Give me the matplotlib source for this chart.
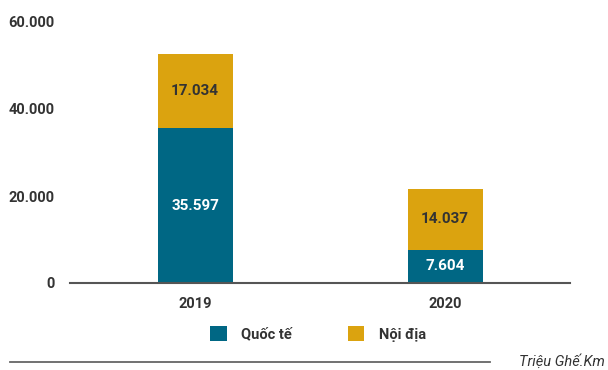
import numpy as np
import matplotlib.pyplot as plt
from matplotlib.lines import Line2D

years = ['2019', '2020']
quoc_te = [35597, 7604]
noi_dia = [17034, 14037]
yticks = [0, 20000, 40000, 60000]
ytick_labels = ['0', '20.000', '40.000', '60.000']

teal = '#006784'
gold = '#DBA30F'
dark = '#333333'

plt.rcParams['font.family'] = ['Roboto', 'DejaVu Sans']

fig = plt.figure(figsize=(6.08, 3.70), dpi=100)
ax = fig.add_axes([70/608, 87/370, 500/608, 261/370])

x = np.arange(len(years))
w = 0.30
b1 = ax.bar(x, quoc_te, w, color=teal, label='Quốc tế')
b2 = ax.bar(x, noi_dia, w, bottom=quoc_te, color=gold, label='Nội địa')

def fmt(v):
    return f'{v:,}'.replace(',', '.')

# value labels centred in each segment
for i in range(len(years)):
    ax.text(x[i], quoc_te[i] / 2, fmt(quoc_te[i]), ha='center', va='center',
            color='white', fontsize=11, fontweight='bold')
    ax.text(x[i], quoc_te[i] + noi_dia[i] / 2, fmt(noi_dia[i]), ha='center',
            va='center', color=dark, fontsize=11, fontweight='bold')

ax.set_xlim(-0.5, 1.5)
ax.set_ylim(0, 60000)
ax.set_xticks(x)
ax.set_xticklabels(years)
ax.set_yticks(yticks)
ax.set_yticklabels(ytick_labels)
ax.tick_params(axis='both', length=0, labelsize=10.5, colors=dark)
ax.tick_params(axis='y', pad=11)
ax.tick_params(axis='x', pad=10)
for lbl in ax.get_xticklabels() + ax.get_yticklabels():
    lbl.set_fontweight('bold')
for s in ['top', 'right', 'left']:
    ax.spines[s].set_visible(False)
ax.spines['bottom'].set_color('#555555')
ax.spines['bottom'].set_linewidth(1.5)

leg = fig.legend(handles=[b1, b2], loc='center', bbox_to_anchor=(318/608, 1 - 334/370),
                 ncol=2, frameon=False, handlelength=1.15, handleheight=1.2,
                 handletextpad=1.0, columnspacing=3.8,
                 prop={'size': 10.5, 'weight': 'bold'})
for t in leg.get_texts():
    t.set_color(dark)

fig.add_artist(Line2D([10/608, 490/608], [1 - 362/370, 1 - 362/370],
                      color='#666666', lw=1.3, transform=fig.transFigure))
fig.text(605/608, 1 - 362/370, 'Triệu Ghế.Km', ha='right', va='center',
         style='italic', fontsize=10.5, color=dark)

fig.savefig('out.png', dpi=100)
